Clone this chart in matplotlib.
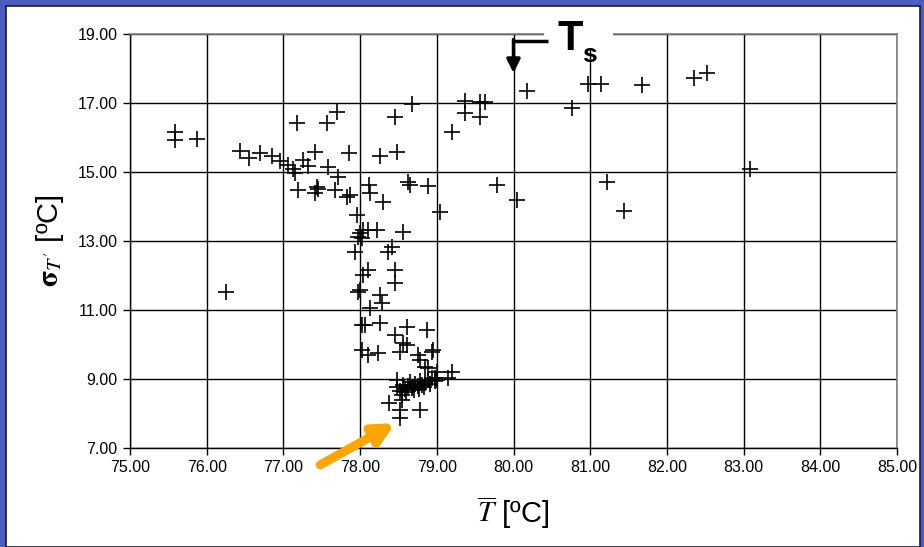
import matplotlib
matplotlib.use("Agg")
import matplotlib.pyplot as plt
from matplotlib.patches import Rectangle

plt.rcParams["font.family"] = ["Liberation Sans", "DejaVu Sans"]
plt.rcParams["mathtext.fontset"] = "stix"

# Mean temperature (x) and fluctuation level (y), one entry per sample
t_mean = [
    75.59, 75.59, 75.87, 76.43, 76.55, 76.69, 76.85, 76.96, 77.06, 77.13,
    77.15, 77.18, 77.26, 77.32, 77.41, 77.57, 77.70, 77.58, 77.71, 77.86,
    77.19, 77.44, 77.45, 77.41, 77.67, 77.83, 77.87, 77.96, 78.12, 78.13,
    78.26, 78.30, 78.46, 78.48, 78.68, 78.62, 78.65, 78.89, 79.04, 79.20,
    79.37, 79.56, 79.63, 79.37, 79.56, 80.18, 80.76, 80.97, 81.14, 81.68,
    79.78, 80.05, 81.22, 81.44, 82.35, 82.52, 83.08, 76.25, 78.00, 78.04,
    78.10, 78.22, 77.97, 78.02, 78.56, 78.42, 78.36, 77.93, 78.04, 78.10,
    78.45, 78.45, 77.97, 78.00, 78.26, 78.29, 78.13, 78.02, 78.06, 78.26,
    78.61, 78.87, 78.45, 78.56, 78.61, 78.02, 78.10, 78.23, 78.52, 78.75,
    78.94, 78.95, 78.78, 78.85, 78.89, 79.00, 79.00, 79.20, 79.15, 78.48,
    78.38, 78.55, 78.78, 78.52, 78.52, 78.98, 78.48, 78.52, 78.56, 78.59,
    78.62, 78.65, 78.68, 78.72, 78.75, 78.78, 78.81, 78.85, 78.89, 78.91,
    78.94, 78.55, 78.60, 78.70, 78.77, 78.83, 78.98,
]
sigma = [
    16.16, 15.93, 15.96, 15.61, 15.41, 15.55, 15.46, 15.32, 15.20, 15.09,
    14.97, 16.42, 15.35, 15.17, 15.58, 16.42, 16.74, 15.14, 14.86, 15.55,
    14.48, 14.57, 14.51, 14.39, 14.48, 14.28, 14.33, 13.75, 14.62, 14.39,
    15.46, 14.13, 16.59, 15.58, 16.97, 14.71, 14.62, 14.59, 13.84, 16.16,
    17.06, 17.03, 17.03, 16.71, 16.59, 17.35, 16.86, 17.55, 17.55, 17.52,
    14.62, 14.19, 14.71, 13.87, 17.72, 17.87, 15.09, 11.52, 13.23, 13.32,
    13.32, 13.32, 13.12, 13.09, 13.26, 12.83, 12.68, 12.68, 12.01, 12.16,
    12.16, 11.78, 11.52, 11.58, 11.43, 11.20, 11.06, 10.57, 10.57, 10.62,
    10.51, 10.42, 10.28, 10.04, 9.99, 9.84, 9.70, 9.75, 9.78, 9.70,
    9.78, 9.84, 9.55, 9.35, 9.32, 9.20, 8.97, 9.20, 9.03, 8.97,
    8.30, 8.39, 8.10, 8.10, 7.87, 9.03, 8.77, 8.65, 8.83, 8.71,
    8.80, 8.91, 8.74, 8.86, 8.80, 8.94, 8.83, 8.88, 8.97, 8.86,
    9.03, 8.54, 8.62, 8.68, 8.71, 8.77, 8.94,
]

x_ticks = [75, 76, 77, 78, 79, 80, 81, 82, 83, 84, 85]
y_ticks = [7, 9, 11, 13, 15, 17, 19]

# Ts marker position and the highlighted low-fluctuation point
ts_x, ts_y = 80.0, 17.87
hl_x, hl_y = 78.46, 7.72

fig = plt.figure(figsize=(9.24, 5.47), dpi=100)
fig.patch.set_facecolor("#4a5ec2")
fig.add_artist(Rectangle((6 / 924, 0), 914 / 924, 541 / 547,
                         transform=fig.transFigure, facecolor="white",
                         edgecolor="#1a1a3a", lw=1.2, zorder=0))

ax = fig.add_axes([130 / 924, 1 - 448 / 547, 767 / 924, 414 / 547])
ax.set_xlim(75, 85)
ax.set_ylim(7, 19)
ax.set_xticks(x_ticks)
ax.set_yticks(y_ticks)
ax.set_xticklabels([f"{v:.2f}" for v in x_ticks])
ax.set_yticklabels([f"{v:.2f}" for v in y_ticks])
ax.tick_params(direction="out", length=5, width=1, labelsize=11.5,
               colors="black", pad=4)
ax.grid(True, color="black", lw=1.0)
ax.set_axisbelow(True)
for side in ("left", "bottom"):
    ax.spines[side].set_color("black")
    ax.spines[side].set_linewidth(1.0)
for side in ("top", "right"):
    ax.spines[side].set_color("#808080")
    ax.spines[side].set_linewidth(1.2)

ax.plot(t_mean, sigma, linestyle="none", marker="+", markersize=11,
        markeredgewidth=1.2, color="black", zorder=3)

ax.set_xlabel(r"$\overline{T}$ [ºC]", fontsize=21, labelpad=14)
ax.set_ylabel(r"$\mathbf{\sigma}_{T'}$ [ºC]", fontsize=21, labelpad=8)

# Ts label with white backing over the top border
ax.add_patch(Rectangle((80.4, 18.6), 0.9, 0.6, facecolor="white",
                       edgecolor="none", zorder=4, clip_on=False))
ax.text(80.58, 18.55, "T", fontsize=30, fontweight="bold", ha="left",
        va="baseline", zorder=5, clip_on=False)
ax.text(80.9, 18.18, "s", fontsize=19, fontweight="bold", ha="left",
        va="baseline", zorder=5, clip_on=False)
ax.plot([80.45, ts_x], [18.81, 18.81], color="black", lw=2.5,
        solid_capstyle="butt", zorder=5, clip_on=False)
ax.annotate("", xy=(ts_x, ts_y), xytext=(ts_x, 18.84),
            arrowprops=dict(arrowstyle="-|>", color="black", lw=2.5,
                            mutation_scale=20, shrinkA=0, shrinkB=0),
            zorder=5, annotation_clip=False)

# orange pointer to the lowest-fluctuation cluster
ax.annotate("", xy=(hl_x, hl_y), xytext=(77.48, 6.51),
            arrowprops=dict(arrowstyle="-|>", color="#ffa500", lw=6.5,
                            mutation_scale=30, shrinkA=0, shrinkB=0),
            zorder=6, annotation_clip=False)

fig.savefig("out.png", dpi=100, facecolor=fig.get_facecolor())
